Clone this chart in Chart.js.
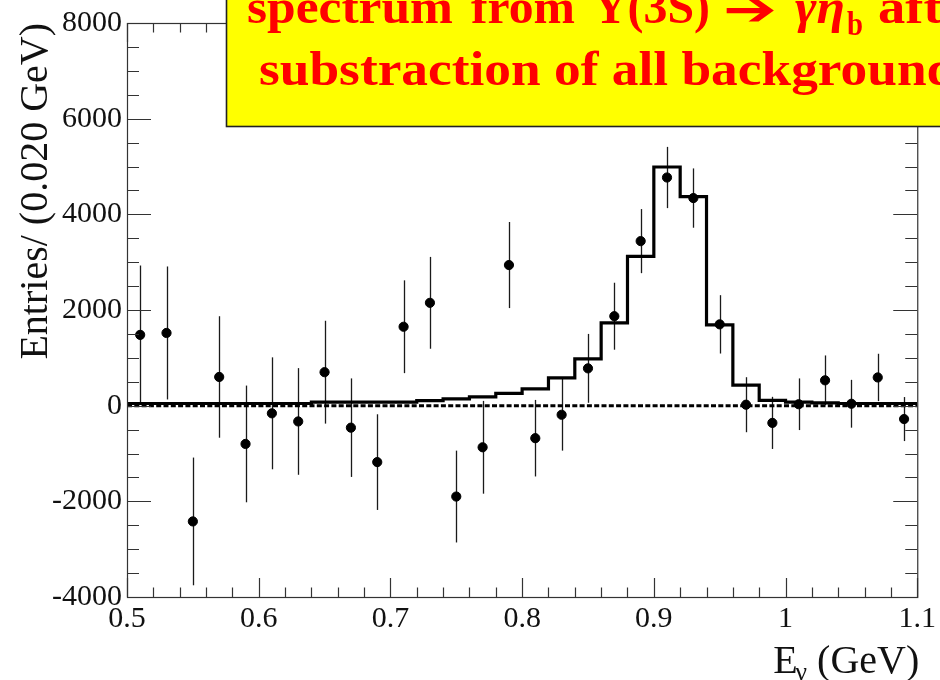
<!DOCTYPE html>
<html>
<head>
<meta charset="utf-8">
<script src="https://cdn.jsdelivr.net/npm/chart.js@4.4.0/dist/chart.umd.min.js"></script>
<style>
  html, body { margin: 0; padding: 0; background: #fff; }
  #wrap { width: 940px; height: 680px; }
</style>
</head>
<body>
<div id="wrap"><canvas id="spectrum" width="940" height="680"></canvas></div>
<script>
// --- Data: photon energy bins (GeV) ---
const binCenters = [0.51, 0.53, 0.55, 0.57, 0.59, 0.61, 0.63, 0.65, 0.67, 0.69,
                    0.71, 0.73, 0.75, 0.77, 0.79, 0.81, 0.83, 0.85, 0.87, 0.89,
                    0.91, 0.93, 0.95, 0.97, 0.99, 1.01, 1.03, 1.05, 1.07, 1.09];
const entries = [1480, 1520, -2420, 600, -800, -160, -330, 700, -460, -1180,
                 1650, 2150, -1900, -870, 2940, -680, -190, 780, 1870, 3440,
                 4770, 4340, 1700, 20, -360, 30, 530, 40, 590, -280];
const entryErrors = [1450, 1390, 1335, 1270, 1220, 1170, 1115, 1075, 1030, 1000,
                     970, 960, 960, 970, 900, 800, 750, 720, 700, 670,
                     640, 620, 610, 575, 545, 540, 520, 500, 495, 460];

// fitted signal shape, one value per bin (lower edges below)
const binEdges = [0.50, 0.52, 0.54, 0.56, 0.58, 0.60, 0.62, 0.64, 0.66, 0.68,
                  0.70, 0.72, 0.74, 0.76, 0.78, 0.80, 0.82, 0.84, 0.86, 0.88,
                  0.90, 0.92, 0.94, 0.96, 0.98, 1.00, 1.02, 1.04, 1.06, 1.08, 1.10];
const fitShape = [45, 45, 45, 45, 45, 45, 45, 75, 75, 75,
                  75, 105, 140, 185, 255, 350, 580, 980, 1730, 3120,
                  4990, 4370, 1690, 430, 110, 75, 60, 45, 45, 45];

const xTicks = [0.5, 0.6, 0.7, 0.8, 0.9, 1.0, 1.1];
const xTickLabels = ['0.5', '0.6', '0.7', '0.8', '0.9', '1', '1.1'];
const yTicks = [-4000, -2000, 0, 2000, 4000, 6000, 8000];
const yTickLabels = ['-4000', '-2000', '0', '2000', '4000', '6000', '8000'];

const SERIF = '"Liberation Serif", "Times New Roman", serif';

// step histogram: last edge repeats the last bin value
const histPoints = binEdges.map((e, i) => ({ x: e, y: fitShape[Math.min(i, fitShape.length - 1)] }));
const dataPoints = binCenters.map((c, i) => ({ x: c, y: entries[i] }));

// text squeezed/stretched horizontally to a given width
const fitText = (ctx, text, x, y, width) => {
    const natural = ctx.measureText(text).width;
    ctx.save();
    ctx.translate(x, y);
    ctx.scale(width / natural, 1);
    ctx.fillText(text, 0, 0);
    ctx.restore();
};

// vertical error bars under the markers
const errorBars = {
    id: 'errorBars',
    beforeDatasetsDraw(chart) {
        const { ctx, scales: { x, y } } = chart;
        ctx.save();
        ctx.strokeStyle = '#1a1a1a';
        ctx.lineWidth = 1.3;
        binCenters.forEach((c, i) => {
            const px = Math.round(x.getPixelForValue(c)) + 0.5;
            ctx.beginPath();
            ctx.moveTo(px, y.getPixelForValue(entries[i] + entryErrors[i]));
            ctx.lineTo(px, y.getPixelForValue(entries[i] - entryErrors[i]));
            ctx.stroke();
        });
        ctx.restore();
    }
};

// frame, inward ticks on all four sides, axis titles and the banner
const frameAndLabels = {
    id: 'frameAndLabels',
    afterDraw(chart) {
        const { ctx, chartArea: a, scales: { x, y } } = chart;
        ctx.save();
        ctx.strokeStyle = '#333';
        ctx.lineWidth = 1.2;

        // y ticks every 500, major every 2000
        for (let v = -4000; v <= 8000; v += 500) {
            const py = Math.round(y.getPixelForValue(v)) + 0.5;
            const len = v % 2000 === 0 ? 24 : 12;
            ctx.beginPath();
            ctx.moveTo(a.left, py); ctx.lineTo(a.left + len, py);
            ctx.moveTo(a.right, py); ctx.lineTo(a.right - len, py);
            ctx.stroke();
        }
        // x ticks every 0.02, major every 0.1
        for (let k = 0; k <= 30; k++) {
            const px = Math.round(x.getPixelForValue(0.5 + k * 0.02)) + 0.5;
            const len = k % 5 === 0 ? 19 : 9.5;
            ctx.beginPath();
            ctx.moveTo(px, a.bottom); ctx.lineTo(px, a.bottom - len);
            ctx.moveTo(px, a.top); ctx.lineTo(px, a.top + len);
            ctx.stroke();
        }
        ctx.strokeRect(a.left + 0.5, a.top + 0.5, a.right - a.left, a.bottom - a.top);

        // axis titles
        ctx.fillStyle = '#111';
        ctx.font = '40px ' + SERIF;
        ctx.save();
        ctx.translate(47, a.top);
        ctx.rotate(-Math.PI / 2);
        ctx.textAlign = 'right';
        ctx.textBaseline = 'alphabetic';
        ctx.fillText('Entries/ (0.020 GeV)', 0, 0);
        ctx.restore();

        ctx.textBaseline = 'alphabetic';
        ctx.textAlign = 'left';
        const tail = ' (GeV)';
        ctx.font = '40px ' + SERIF;
        const wTail = ctx.measureText(tail).width;
        const wE = ctx.measureText('E').width;
        ctx.font = '26px ' + SERIF;
        const wG = ctx.measureText('γ').width;
        const tx = a.right - wTail - wG - wE + 4;
        ctx.font = '40px ' + SERIF;
        ctx.fillText('E', tx, 673);
        ctx.font = '26px ' + SERIF;
        ctx.fillText('γ', tx + wE - 2, 680);
        ctx.font = '40px ' + SERIF;
        ctx.fillText(tail, tx + wE + wG - 2, 673);

        // banner
        ctx.fillStyle = '#ffff00';
        ctx.fillRect(226, -5, 740, 131.5);
        ctx.strokeStyle = '#222';
        ctx.lineWidth = 1.6;
        ctx.strokeRect(226.5, -5, 740, 131.5);

        ctx.fillStyle = '#ff0000';
        const big = 'bold 48px ' + SERIF;
        ctx.font = big;
        fitText(ctx, 'spectrum', 247, 23, 206);
        fitText(ctx, 'from', 471, 23, 104);
        fitText(ctx, 'Υ(3S)', 593, 23, 117);
        ctx.font = 'bold 46px "DejaVu Sans", sans-serif';
        fitText(ctx, '➔', 723, 25, 54);
        ctx.font = 'italic bold 48px ' + SERIF;
        fitText(ctx, 'γη', 795, 23, 50);
        ctx.font = 'bold 34px ' + SERIF;
        fitText(ctx, 'b', 847, 35, 16);
        ctx.font = big;
        fitText(ctx, 'after', 878, 23, 112);
        fitText(ctx, 'substraction of all backgrounds', 259, 85, 718);
        ctx.restore();
    }
};

new Chart(document.getElementById('spectrum').getContext('2d'), {
    type: 'scatter',
    data: {
        datasets: [
            {
                label: 'zero',
                type: 'line',
                data: [{ x: 0.5, y: 0 }, { x: 1.1, y: 0 }],
                borderColor: '#000',
                borderWidth: 3,
                borderDash: [5, 2.3],
                pointRadius: 0,
                order: 3
            },
            {
                label: 'fit',
                type: 'line',
                data: histPoints,
                stepped: 'before',
                borderColor: '#000',
                borderWidth: 3.2,
                pointRadius: 0,
                fill: false,
                order: 2
            },
            {
                label: 'data',
                data: dataPoints,
                backgroundColor: '#000',
                borderColor: '#000',
                pointRadius: 4.6,
                pointHoverRadius: 4.6,
                order: 1
            }
        ]
    },
    options: {
        responsive: false,
        animation: false,
        events: [],
        layout: { padding: { top: 19, right: 20, left: 0, bottom: 0 } },
        plugins: { legend: { display: false }, tooltip: { enabled: false } },
        scales: {
            x: {
                type: 'linear',
                min: 0.5,
                max: 1.1,
                afterFit: s => { s.height = 83; },
                afterBuildTicks: s => { s.ticks = xTicks.map(v => ({ value: v })); },
                grid: { display: false, drawTicks: false },
                border: { display: false },
                ticks: {
                    padding: 4,
                    color: '#111',
                    font: { family: SERIF, size: 30 },
                    maxRotation: 0,
                    autoSkip: false,
                    callback: v => xTickLabels[xTicks.findIndex(t => Math.abs(t - v) < 1e-6)]
                }
            },
            y: {
                min: -4000,
                max: 8000,
                afterFit: s => { s.width = 127; },
                afterBuildTicks: s => { s.ticks = yTicks.map(v => ({ value: v })); },
                grid: { display: false, drawTicks: false },
                border: { display: false },
                ticks: {
                    padding: 5,
                    color: '#111',
                    font: { family: SERIF, size: 30 },
                    autoSkip: false,
                    callback: v => yTickLabels[yTicks.indexOf(v)]
                }
            }
        }
    },
    plugins: [errorBars, frameAndLabels]
});
</script>
</body>
</html>
